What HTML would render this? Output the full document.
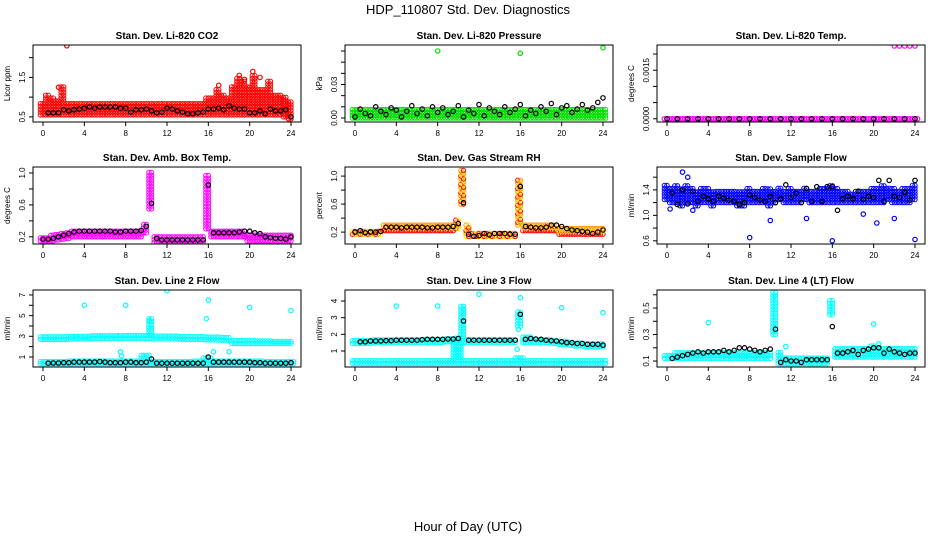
<!DOCTYPE html>
<html><head><meta charset="utf-8"><style>
html,body{margin:0;padding:0;background:#fff}
svg{display:block;font-family:"Liberation Sans",sans-serif}
</style></head><body>
<svg id="chart" width="936" height="540" viewBox="0 0 936 540">
<text x="468" y="14" text-anchor="middle" font-size="13">HDP_110807  Std. Dev. Diagnostics</text>
<text x="468" y="531" text-anchor="middle" font-size="13">Hour of Day (UTC)</text>
</svg>
<script>
// ---- data (time steps implied by array length over 0..24 h) ----
const xTicks = [0,4,8,12,16,20,24];
const p1Lo = [0.55,0.55,0.55,0.55,0.55,0.55,0.55,0.55,0.55,0.55,0.55,0.55,0.55,0.55,0.55,0.55,0.55,0.55,0.55,0.55,0.55,0.55,0.55,0.55,0.55,0.55,0.55,0.55,0.55,0.55,0.55,0.55,0.55,0.55,0.55,0.55,0.55,0.55,0.55,0.55,0.55,0.55,0.55,0.55,0.55,0.55,0.55,0.5,0.45];
const p1Hi = [0.9,1.1,1.0,0.95,1.3,0.9,0.85,0.85,0.85,0.85,0.85,0.85,0.85,0.85,0.85,0.85,0.85,0.85,0.85,0.85,0.85,0.85,0.85,0.85,0.85,0.85,0.85,0.85,0.85,0.85,0.85,0.85,1.0,1.0,1.2,1.1,1.0,1.3,1.5,1.4,1.3,1.6,1.2,1.2,1.4,1.1,1.1,1.0,0.9];
const p1Blk = [null,0.6,0.6,0.6,0.68,0.65,0.68,0.7,0.72,0.75,0.72,0.75,0.75,0.75,0.75,0.72,0.72,0.62,0.68,0.68,0.7,0.65,0.6,0.62,0.72,0.7,0.65,0.62,0.58,0.58,0.6,0.62,0.7,0.7,0.72,0.68,0.78,0.72,0.7,0.7,0.6,0.6,0.65,0.58,0.7,0.65,0.65,0.68,0.5];
const p1Out = [[2.3,2.3],[1.5,1.25],[17,1.3],[19,1.55],[20.3,1.65],[21,1.5],[19.5,1.45]];
const p2Lo = [0,0,0,0,0,0,0,0,0,0,0,0,0,0,0,0,0,0,0,0,0,0,0,0,0];
const p2Hi = [0.009,0.009,0.009,0.009,0.009,0.009,0.009,0.009,0.009,0.009,0.009,0.009,0.009,0.009,0.009,0.009,0.009,0.009,0.009,0.009,0.009,0.009,0.009,0.009,0.009];
const p2Blk = [0.001,0.008,0.004,0.002,0.010,0.006,0.003,0.009,0.007,0.001,0.006,0.011,0.004,0.008,0.002,0.010,0.005,0.009,0.003,0.006,0.011,0.001,0.007,0.004,0.012,0.002,0.009,0.006,0.003,0.010,0.005,0.008,0.012,0.002,0.007,0.004,0.010,0.006,0.013,0.003,0.009,0.011,0.005,0.008,0.012,0.007,0.009,0.014,0.018];
const p2Out = [[8,0.06],[16,0.058],[24,0.063]];
const p3Lo = [0,0,0,0,0,0,0,0,0,0,0,0,0,0,0,0,0,0,0,0,0,0,0,0,0];
const p3Hi = [0,0,0,0,0,0,0,0,0,0,0,0,0,0,0,0,0,0,0,0,0,0,0,0,0];
const p3Blk = [0,0,0,0,0,0,0,0,0,0,0,0,0,0,0,0,0,0,0,0,0,0,0,0,0];
const p3Out = [[22,0.00225],[22.5,0.00225],[23,0.00225],[23.5,0.00225],[24,0.00225]];
const p4Lo = [0.15,0.15,0.15,0.16,0.17,0.18,0.2,0.2,0.2,0.2,0.2,0.2,0.2,0.2,0.2,0.2,0.2,0.2,0.2,0.2,0.25,0.55,0.13,0.13,0.13,0.13,0.13,0.13,0.13,0.13,0.13,0.13,0.3,0.2,0.2,0.2,0.2,0.2,0.2,0.2,0.15,0.15,0.15,0.15,0.15,0.15,0.15,0.15,0.15];
const p4Hi = [0.2,0.2,0.22,0.24,0.26,0.27,0.3,0.3,0.3,0.3,0.3,0.3,0.3,0.3,0.3,0.3,0.3,0.3,0.3,0.3,0.38,1.02,0.22,0.2,0.2,0.2,0.2,0.2,0.2,0.2,0.2,0.2,0.97,0.3,0.3,0.3,0.3,0.3,0.3,0.3,0.25,0.25,0.24,0.22,0.22,0.22,0.22,0.22,0.22];
const p4Blk = [0.17,0.17,0.18,0.2,0.22,0.24,0.26,0.27,0.27,0.27,0.27,0.27,0.27,0.27,0.26,0.26,0.27,0.27,0.27,0.28,0.33,0.62,0.18,0.16,0.16,0.16,0.16,0.16,0.16,0.16,0.16,0.16,0.85,0.25,0.25,0.25,0.25,0.25,0.26,0.27,0.27,0.25,0.24,0.2,0.19,0.18,0.18,0.17,0.2];
const p4Out = [];
const p5Lo = [0.17,0.17,0.17,0.17,0.17,0.17,0.22,0.22,0.22,0.22,0.22,0.22,0.22,0.22,0.22,0.22,0.22,0.22,0.22,0.22,0.25,0.6,0.14,0.14,0.14,0.14,0.14,0.14,0.14,0.14,0.14,0.14,0.3,0.22,0.22,0.22,0.22,0.22,0.22,0.22,0.17,0.17,0.17,0.17,0.17,0.17,0.17,0.17,0.17];
const p5Hi = [0.23,0.23,0.23,0.23,0.23,0.23,0.31,0.31,0.31,0.31,0.31,0.31,0.31,0.31,0.31,0.31,0.31,0.31,0.31,0.31,0.4,1.1,0.3,0.21,0.21,0.21,0.21,0.21,0.21,0.21,0.21,0.21,0.97,0.32,0.32,0.32,0.32,0.32,0.32,0.32,0.26,0.26,0.26,0.26,0.26,0.26,0.26,0.26,0.26];
const p5Blk = [0.2,0.22,0.19,0.2,0.2,0.21,0.27,0.27,0.27,0.26,0.27,0.27,0.27,0.27,0.26,0.26,0.27,0.27,0.27,0.28,0.32,0.62,0.17,0.14,0.15,0.18,0.16,0.18,0.18,0.18,0.17,0.17,0.85,0.28,0.27,0.26,0.26,0.27,0.3,0.3,0.28,0.25,0.23,0.22,0.21,0.2,0.18,0.2,0.23];
const p5Out = [];
const p6Lo = [1.25,1.2,1.2,1.15,1.2,1.2,1.15,1.2,1.2,1.15,1.2,1.2,1.2,1.2,1.15,1.15,1.2,1.2,1.2,1.2,1.15,1.2,1.25,1.2,1.2,1.2,1.2,1.25,1.2,1.2,1.2,1.2,1.2,1.2,1.2,1.2,1.2,1.2,1.2,1.2,1.2,1.2,1.2,1.25,1.2,1.2,1.2,1.2,1.25];
const p6Hi = [1.5,1.45,1.5,1.45,1.5,1.45,1.4,1.45,1.45,1.4,1.4,1.4,1.38,1.38,1.4,1.4,1.45,1.4,1.4,1.42,1.45,1.4,1.45,1.4,1.45,1.4,1.4,1.45,1.4,1.4,1.45,1.45,1.5,1.45,1.4,1.38,1.35,1.38,1.4,1.4,1.45,1.45,1.5,1.45,1.45,1.4,1.45,1.45,1.5];
const p6Blk = [null,1.35,1.17,1.4,1.18,1.38,1.22,1.3,1.26,1.22,1.3,1.27,1.24,1.22,1.17,1.2,1.32,1.28,1.24,1.22,1.3,1.2,1.26,1.48,1.28,1.35,1.2,1.42,1.22,1.45,1.22,1.45,1.45,1.08,1.26,1.3,1.26,1.38,1.25,1.3,1.28,1.55,1.22,1.55,1.3,1.28,1.36,1.24,1.55];
const p6Out = [[8,0.65],[16,0.6],[24,0.62],[1.5,1.68],[2,1.6],[13.5,0.95],[10,0.92],[20.3,0.88],[22,0.95],[19,1.02],[0.3,1.1],[2.5,1.08]];
const p7Lo = [2.7,2.7,2.7,2.7,2.7,2.7,2.75,2.75,2.75,2.75,2.8,2.8,2.8,2.8,2.8,2.8,2.8,2.8,2.8,2.8,2.8,2.8,2.75,2.75,2.75,2.75,2.75,2.7,2.7,2.7,2.7,2.7,2.65,2.65,2.65,2.6,2.6,2.3,2.3,2.3,2.3,2.3,2.3,2.3,2.3,2.3,2.3,2.3,2.3];
const p7Hi = [2.95,2.95,2.95,2.95,2.95,3.0,3.0,3.0,3.0,3.0,3.05,3.05,3.05,3.05,3.05,3.1,3.1,3.1,3.1,3.1,3.1,4.9,3.2,3.1,3.05,3.05,3.05,3.0,3.0,3.0,3.0,3.0,3.0,3.0,2.95,2.95,2.9,2.6,2.6,2.6,2.6,2.6,2.55,2.55,2.55,2.5,2.5,2.5,2.5];
const p7Lo2 = [0.35,0.35,0.35,0.35,0.35,0.35,0.35,0.35,0.35,0.35,0.35,0.35,0.35,0.35,0.35,0.35,0.35,0.35,0.35,0.35,0.35,0.35,0.35,0.35,0.35];
const p7Hi2 = [0.55,0.55,0.55,0.6,0.6,0.6,0.6,0.6,0.6,0.6,1.2,0.55,0.55,0.55,0.55,0.6,1.0,0.6,0.6,0.6,0.6,0.6,0.55,0.55,0.55];
const p7Blk = [null,0.4,0.42,0.42,0.45,0.45,0.5,0.5,0.5,0.5,0.5,0.55,0.5,0.45,0.45,0.45,0.5,0.5,0.45,0.45,0.5,0.8,0.4,0.4,0.4,0.4,0.4,0.4,0.4,0.4,0.4,0.4,1.0,0.5,0.5,0.5,0.5,0.5,0.5,0.5,0.5,0.45,0.45,0.4,0.4,0.4,0.4,0.4,0.45];
const p7Out = [[4,6],[8,6],[12,7.4],[16,6.5],[20,5.8],[24,5.5],[7.5,1.5],[7.6,1.1],[10.3,4.5],[15.8,4.7],[18,1.5],[16.5,1.5]];
const p8Lo = [1.45,1.45,1.45,1.45,1.5,1.5,1.5,1.5,1.5,1.5,1.5,1.5,1.5,1.5,1.5,1.5,1.5,1.5,1.55,1.55,1.6,1.5,1.5,1.5,1.5,1.5,1.5,1.5,1.5,1.5,1.5,1.5,2.5,1.5,1.5,1.5,1.5,1.5,1.5,1.45,1.4,1.4,1.35,1.3,1.3,1.25,1.25,1.25,1.25];
const p8Hi = [1.7,1.7,1.7,1.7,1.75,1.75,1.75,1.75,1.75,1.75,1.8,1.8,1.8,1.8,1.8,1.8,1.8,1.8,1.85,1.85,1.9,3.8,1.75,1.75,1.7,1.7,1.7,1.7,1.7,1.7,1.7,1.7,3.4,1.85,1.85,1.8,1.8,1.75,1.75,1.7,1.65,1.6,1.55,1.55,1.5,1.5,1.45,1.45,1.45];
const p8Lo2 = [0.25,0.25,0.25,0.25,0.25,0.25,0.25,0.25,0.25,0.25,0.25,0.25,0.25,0.25,0.25,0.25,0.25,0.25,0.25,0.25,0.25,0.25,0.25,0.25,0.25];
const p8Hi2 = [0.45,0.45,0.5,0.5,0.55,0.55,0.55,0.55,0.55,0.55,1.5,0.45,0.45,0.45,0.45,0.5,0.6,0.55,0.55,0.55,0.5,0.5,0.5,0.45,0.45];
const p8Blk = [null,1.55,1.55,1.6,1.6,1.6,1.62,1.62,1.65,1.65,1.65,1.65,1.65,1.68,1.7,1.7,1.7,1.7,1.72,1.72,1.75,2.8,1.65,1.65,1.65,1.65,1.65,1.65,1.65,1.65,1.65,1.65,3.2,1.7,1.75,1.72,1.7,1.65,1.62,1.6,1.55,1.5,1.5,1.45,1.45,1.4,1.4,1.4,1.35];
const p8Out = [[4,3.7],[8,3.7],[12,4.4],[16,4.2],[20,3.6],[24,3.3],[10.5,3.5],[15.7,1.1],[15.8,2.3]];
const p9Lo = [0.12,0.12,0.12,0.12,0.12,0.12,0.12,0.12,0.12,0.12,0.12,0.12,0.12,0.12,0.12,0.12,0.12,0.12,0.12,0.12,0.12,0.3,0.08,0.08,0.08,0.08,0.08,0.08,0.08,0.08,0.08,0.08,0.45,0.13,0.13,0.13,0.13,0.13,0.13,0.13,0.13,0.13,0.13,0.13,0.13,0.13,0.13,0.13,0.13];
const p9Hi = [0.16,0.16,0.17,0.17,0.18,0.18,0.18,0.18,0.18,0.18,0.18,0.18,0.18,0.18,0.18,0.18,0.18,0.18,0.18,0.18,0.18,0.63,0.17,0.13,0.13,0.13,0.13,0.13,0.13,0.13,0.13,0.13,0.56,0.2,0.2,0.2,0.2,0.2,0.2,0.2,0.22,0.2,0.2,0.2,0.2,0.2,0.2,0.2,0.2];
const p9Blk = [null,0.12,0.13,0.14,0.15,0.16,0.17,0.16,0.17,0.17,0.17,0.18,0.17,0.18,0.2,0.2,0.19,0.18,0.17,0.18,0.19,0.34,0.09,0.11,0.1,0.1,0.09,0.11,0.11,0.11,0.11,0.11,0.36,0.16,0.16,0.17,0.18,0.15,0.18,0.19,0.2,0.2,0.16,0.19,0.17,0.16,0.15,0.16,0.16];
const p9Out = [[4,0.39],[20,0.38],[11.5,0.21],[20.5,0.23]];

const panels = [
 {name:'co2',title:'Stan. Dev. Li-820 CO2',ylab:'Licor ppm',col:0,row:0,ymin:0.37,ymax:2.32,ticks:[0.5,1.0,1.5,2.0],labels:['0.5','','1.5',''],colr:'#ff0000',bands:[[p1Lo,p1Hi]],blk:p1Blk,out:p1Out},
 {name:'pressure',title:'Stan. Dev. Li-820 Pressure',ylab:'kPa',col:1,row:0,ymin:-0.0036,ymax:0.0654,ticks:[0,0.01,0.02,0.03,0.04,0.05,0.06],labels:['0.00','','','0.03','','',''],colr:'#00dd00',bands:[[p2Lo,p2Hi]],blk:p2Blk,out:p2Out},
 {name:'li820-temp',title:'Stan. Dev. Li-820 Temp.',ylab:'degrees C',col:2,row:0,ymin:-0.0001,ymax:0.00228,ticks:[0,0.0005,0.001,0.0015,0.002],labels:['0.0000','','','0.0015',''],colr:'#ff00ff',bands:[[p3Lo,p3Hi]],blk:p3Blk,out:p3Out},
 {name:'box-temp',title:'Stan. Dev. Amb. Box Temp.',ylab:'degrees C',col:0,row:1,ymin:0.11,ymax:1.075,ticks:[0.2,0.4,0.6,0.8,1.0],labels:['0.2','','0.6','','1.0'],colr:'#ff00ff',bands:[[p4Lo,p4Hi]],blk:p4Blk,out:p4Out},
 {name:'gas-rh',title:'Stan. Dev. Gas Stream RH',ylab:'percent',col:1,row:1,ymin:0.03,ymax:1.13,ticks:[0.2,0.4,0.6,0.8,1.0],labels:['0.2','','0.6','','1.0'],colr:'#ff9900',bands:[[p5Lo,p5Hi]],blk:p5Blk,out:p5Out},
 {name:'sample-flow',title:'Stan. Dev. Sample Flow',ylab:'ml/min',col:2,row:1,ymin:0.55,ymax:1.76,ticks:[0.6,0.8,1.0,1.2,1.4,1.6],labels:['0.6','','1.0','','1.4',''],colr:'#0000ff',bands:[[p6Lo,p6Hi]],blk:p6Blk,out:p6Out},
 {name:'line2-flow',title:'Stan. Dev. Line 2 Flow',ylab:'ml/min',col:0,row:2,ymin:0.03,ymax:7.48,ticks:[1,2,3,4,5,6,7],labels:['1','','3','','5','','7'],colr:'#00ffff',bands:[[p7Lo,p7Hi],[p7Lo2,p7Hi2]],blk:p7Blk,out:p7Out},
 {name:'line3-flow',title:'Stan. Dev. Line 3 Flow',ylab:'ml/min',col:1,row:2,ymin:0.04,ymax:4.66,ticks:[1,2,3,4],labels:['1','2','3','4'],colr:'#00ffff',bands:[[p8Lo,p8Hi],[p8Lo2,p8Hi2]],blk:p8Blk,out:p8Out},
 {name:'line4-flow',title:'Stan. Dev. Line 4 (LT) Flow',ylab:'ml/min',col:2,row:2,ymin:0.055,ymax:0.636,ticks:[0.1,0.2,0.3,0.4,0.5,0.6],labels:['0.1','','0.3','','0.5',''],colr:'#00ffff',bands:[[p9Lo,p9Hi]],blk:p9Blk,out:p9Out}
];

const NS='http://www.w3.org/2000/svg';
const svg=document.getElementById('chart');
function mk(tag,attrs,parent){const e=document.createElementNS(NS,tag);for(const k in attrs)e.setAttribute(k,attrs[k]);parent.appendChild(e);return e;}
const LEFTS=[33,345,657], TOPS=[45,167,290], W=268, H=77;

panels.forEach(p=>{
  const L=LEFTS[p.col], T=TOPS[p.row];
  const g=mk('g',{},svg);
  
  
  const xs=t=>L+10+t*(W-20)/24;
  const ys=v=>T+H-(v-p.ymin)/(p.ymax-p.ymin)*H;
  const clip=mk('clipPath',{id:'c-'+p.name},g);
  mk('rect',{x:L,y:T,width:W,height:H},clip);
  const marks=mk('g',{'clip-path':'url(#c-'+p.name+')'},g);
  function circ(x,y,c,parent,sw){
    return mk('circle',{cx:x.toFixed(1),cy:y.toFixed(1),r:2.2,fill:'none',stroke:c,'stroke-width':sw||1.2},parent);
  }
  p.bands.forEach(b=>{
    const lo=b[0],hi=b[1],n=lo.length,step=24/(n-1);
    const bg=mk('g',{},marks);
    
    
    const pxStep=xs(step)-xs(0);
    for(let i=0;i<n;i++){
      const t=i*step, y1=ys(hi[i]), y2=ys(lo[i]);
      for(let dx=-pxStep/2; dx<pxStep/2; dx+=2.6){
        const x=xs(t)+dx;
        if(x<xs(0)-3||x>xs(24)+3) continue;
        for(let y=y2;y>=y1-0.1;y-=2.8) circ(x,y,p.colr,bg,1.0);
        if(y2-y1<2.8) circ(x,y1,p.colr,bg,1.0);
      }
    }
  });
  if(p.name==='gas-rh'){
    marks.querySelectorAll('circle').forEach((c,i)=>{ if(i%3===0) c.setAttribute('stroke','#ff0000'); else if(i%3===1) c.setAttribute('stroke','#ffee00'); });
  }
  p.out.forEach(o=>{
    const c=circ(xs(o[0]),ys(o[1]),p.colr,marks);
    
    
  });
  const bn=p.blk.length, bstep=24/(bn-1);
  p.blk.forEach((v,i)=>{
    if(v===null) return;
    const c=circ(xs(i*bstep),ys(v),'#000',marks);
    
    
  });
  const box=mk('rect',{x:L,y:T,width:W,height:H,fill:'none',stroke:'#000','stroke-width':1},g);
  
  
  const tt=mk('text',{x:L+W/2,y:T-6,'text-anchor':'middle','font-size':10,'font-weight':'bold'},g);
  tt.textContent=p.title;
  
  
  mk('line',{x1:xs(0),x2:xs(24),y1:T+H,y2:T+H,stroke:'#000'},g);
  xTicks.forEach(t=>{
    mk('line',{x1:xs(t),x2:xs(t),y1:T+H,y2:T+H+4,stroke:'#000'},g);
    const lb=mk('text',{x:xs(t),y:T+H+14,'text-anchor':'middle','font-size':8},g);
    lb.textContent=t;
    
    
  });
  mk('line',{x1:L,x2:L,y1:ys(p.ticks[0]),y2:ys(p.ticks[p.ticks.length-1]),stroke:'#000'},g);
  p.ticks.forEach((v,i)=>{
    const y=ys(v);
    mk('line',{x1:L-4,x2:L,y1:y,y2:y,stroke:'#000'},g);
    if(p.labels[i]){
      const lb=mk('text',{x:L-8,y:y,'text-anchor':'middle','font-size':8,transform:`rotate(-90 ${L-8} ${y})`},g);
      lb.textContent=p.labels[i];
      
      
    }
  });
  const yl=mk('text',{x:L-23,y:T+H/2,'text-anchor':'middle','font-size':8,transform:`rotate(-90 ${L-23} ${T+H/2})`},g);
  yl.textContent=p.ylab;
  
  
});
</script>
</body></html>
